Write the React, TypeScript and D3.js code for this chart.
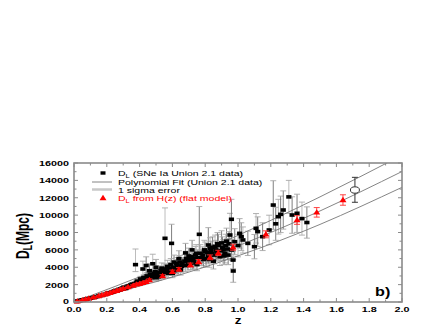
import React from 'react';
import * as d3 from 'd3';

// SNe Ia (Union 2.1) luminosity distances: [z, DL, errUp, errDown?]
const sneData: number[][] = [
  [0.015, 65, 10], [0.02, 88, 10], [0.025, 105, 12], [0.03, 130, 12], [0.035, 150, 15],
  [0.04, 175, 15], [0.045, 195, 18], [0.05, 220, 20], [0.055, 235, 20], [0.06, 260, 25],
  [0.065, 285, 25], [0.07, 300, 30], [0.08, 350, 30], [0.09, 400, 35], [0.1, 440, 40],
  [0.11, 480, 40], [0.12, 530, 45], [0.13, 590, 50], [0.14, 620, 55], [0.15, 680, 60],
  [0.16, 740, 60], [0.17, 760, 70], [0.18, 830, 70], [0.19, 880, 80], [0.2, 950, 90],
  [0.21, 980, 90], [0.22, 1080, 100], [0.23, 1100, 100], [0.24, 1180, 110], [0.25, 1230, 120],
  [0.26, 1290, 130], [0.27, 1360, 130], [0.28, 1400, 140], [0.29, 1480, 150], [0.3, 1520, 150],
  [0.31, 1620, 160], [0.32, 1650, 170], [0.33, 1760, 180], [0.34, 1800, 190], [0.35, 1900, 200],
  [0.36, 1950, 210], [0.37, 2100, 250], [0.375, 4300, 1800, 800], [0.38, 2200, 250], [0.39, 2300, 300],
  [0.4, 2250, 280], [0.41, 2500, 300], [0.42, 2400, 300], [0.43, 2700, 350], [0.44, 2600, 350],
  [0.45, 2900, 400], [0.46, 2750, 350], [0.47, 3100, 450], [0.48, 2900, 400], [0.49, 3300, 500],
  [0.5, 2800, 400], [0.51, 3400, 500], [0.52, 3000, 450], [0.53, 3600, 550], [0.54, 3200, 500],
  [0.555, 7330, 3500, 3800], [0.55, 3800, 600], [0.56, 3400, 500], [0.57, 4100, 700], [0.58, 3600, 550],
  [0.595, 6750, 2200], [0.59, 4300, 700], [0.6, 3300, 500], [0.61, 4600, 800], [0.62, 3900, 600],
  [0.63, 4200, 700], [0.64, 5000, 900], [0.65, 3700, 600], [0.66, 4400, 700], [0.68, 5650, 1100],
  [0.68, 4200, 700], [0.69, 4800, 800], [0.7, 5300, 900], [0.71, 4500, 800], [0.72, 6000, 1100],
  [0.73, 4700, 800], [0.74, 5400, 1000], [0.75, 4300, 700], [0.764, 7790, 3200, 2900], [0.77, 5600, 1000],
  [0.78, 5100, 900], [0.79, 4900, 900], [0.8, 5800, 1100], [0.819, 6560, 2000], [0.82, 5300, 900],
  [0.83, 6200, 1200], [0.84, 5600, 1000], [0.85, 4700, 900], [0.86, 6400, 1300], [0.87, 5800, 1100],
  [0.88, 6500, 1300], [0.89, 5200, 1000], [0.9, 6800, 1400], [0.91, 6000, 1200], [0.92, 5600, 1100],
  [0.93, 7000, 1500], [0.94, 5400, 1100], [0.951, 7710, 2500], [0.96, 9520, 2300], [0.96, 5990, 1200],
  [0.97, 4830, 1000], [0.971, 3570, 1300], [0.98, 6940, 1500], [1.0, 6500, 1300], [1.01, 7900, 1700],
  [1.02, 7520, 1600], [1.03, 7140, 1500], [1.06, 6750, 1400], [1.1, 6370, 1400], [1.11, 8480, 1700],
  [1.12, 8100, 1700], [1.15, 7520, 1600], [1.19, 8290, 1700], [1.215, 11160, 2800], [1.23, 9000, 1900],
  [1.246, 9820, 2000], [1.26, 10090, 2100], [1.276, 10590, 2200], [1.31, 12100, 1900], [1.33, 10010, 2100],
  [1.36, 10210, 2200], [1.39, 9600, 1900], [1.42, 9150, 1800],
  [0.205, 1000, 100], [0.215, 1040, 100], [0.235, 1150, 110], [0.245, 1250, 120], [0.255, 1330, 130],
  [0.265, 1300, 130], [0.275, 1450, 140], [0.285, 1500, 150], [0.295, 1600, 160], [0.305, 1700, 170],
  [0.315, 1560, 160], [0.325, 1800, 180], [0.335, 1850, 190], [0.345, 1950, 200], [0.355, 2050, 210],
  [0.365, 2000, 220], [0.385, 2400, 260], [0.395, 2150, 250], [0.405, 2650, 300], [0.415, 2300, 280],
  [0.425, 2800, 330], [0.435, 2500, 300], [0.445, 3000, 380], [0.455, 2650, 330], [0.465, 3200, 420],
  [0.475, 2800, 360], [0.485, 3050, 400], [0.495, 3500, 500], [0.505, 3100, 450], [0.515, 2900, 420],
  [0.525, 3300, 480], [0.535, 3900, 600], [0.545, 3500, 520], [0.565, 3700, 560], [0.575, 3300, 500],
  [0.585, 3900, 600], [0.605, 4000, 650], [0.615, 3600, 560], [0.625, 4400, 720], [0.635, 3800, 600],
  [0.645, 4600, 750], [0.655, 4100, 680], [0.675, 4700, 780], [0.685, 5000, 850], [0.695, 4400, 720],
  [0.705, 4900, 820], [0.715, 5200, 900], [0.725, 4500, 750], [0.735, 5000, 850], [0.745, 5600, 1000],
  [0.755, 5100, 900], [0.785, 5400, 950], [0.795, 6000, 1100], [0.805, 5000, 900], [0.815, 5700, 1000],
  [0.825, 4900, 900], [0.835, 5900, 1100], [0.845, 6300, 1200], [0.855, 5400, 1000], [0.865, 6000, 1100],
  [0.875, 6700, 1300], [0.895, 5900, 1100], [0.905, 6300, 1200], [0.915, 5300, 1000], [0.925, 6500, 1300],
  [0.935, 6100, 1200], [0.945, 6700, 1400],
  [0.42, 3800, 900], [0.44, 4200, 1000], [0.46, 3600, 800], [0.48, 4400, 1100], [0.5, 4000, 900],
];

// DL from H(z), flat model: [z, DL, err]
const hzData: number[][] = [
  [0.02, 90, 20], [0.05, 220, 30], [0.07, 320, 40], [0.09, 400, 40], [0.12, 540, 50],
  [0.15, 690, 50], [0.17, 800, 60], [0.19, 900, 60], [0.2, 960, 70], [0.22, 1070, 70],
  [0.24, 1190, 80], [0.26, 1300, 80], [0.28, 1430, 90], [0.3, 1550, 90], [0.33, 1720, 100],
  [0.36, 1880, 100], [0.38, 2030, 110], [0.4, 2100, 110], [0.42, 2200, 120], [0.44, 2330, 120],
  [0.46, 2530, 130], [0.54, 2990, 150], [0.6, 3490, 180], [0.64, 3760, 200], [0.71, 4260, 220],
  [0.76, 4640, 250], [0.83, 5140, 280], [0.88, 5650, 300], [0.97, 6300, 350], [1.17, 7790, 400],
  [1.36, 9440, 500], [1.48, 10320, 550], [1.64, 11740, 600],
];

// open circle point: [z, DL, low, high]
const circlePoint = [1.713, 12890, 11480, 14350];

// polynomial fit and 1 sigma curves
const fitUpper: number[][] = [[0, 0], [0.5, 3640], [1, 7670], [1.5, 12100], [2, 16900]];
const fitMiddle: number[][] = [[0, 0], [0.5, 2970], [1, 6460], [1.5, 10480], [2, 15020]];
const fitLower: number[][] = [[0, 0], [0.5, 2330], [1, 5310], [1.5, 8930], [2, 13200]];

const xLabels = [0, 0.2, 0.4, 0.6, 0.8, 1.0, 1.2, 1.4, 1.6, 1.8, 2.0];
const yLabels = [0, 2000, 4000, 6000, 8000, 10000, 12000, 14000, 16000];

const W = 443, H = 332;
const left = 74, right = 402, top = 163, bottom = 302;
const SX = 1.35;
const font = 'Liberation Sans, Arial, sans-serif';
const axisColor = '#8a8a8a';

function App() {
  const x = d3.scaleLinear().domain([0, 2]).range([left, right]);
  const y = d3.scaleLinear().domain([0, 16000]).range([bottom, top]);
  const line = d3.line<number[]>().x(d => x(d[0])).y(d => y(d[1])).curve(d3.curveNatural);

  const minorX = x.ticks(20);
  const minorY = y.ticks(16);

  const tri = (cx: number, cy: number) =>
    `M${cx},${cy - 3.2} L${cx + 3.5},${cy + 2.2} L${cx - 3.5},${cy + 2.2} Z`;

  return (
    <svg width={W} height={H} style={{ position: 'absolute', left: 0, top: 0, background: '#fff' }}>
      <defs>
        <clipPath id="plot">
          <rect x={left} y={top} width={right - left} height={bottom - top} />
        </clipPath>
      </defs>

      {/* SNe error bars */}
      <g strokeWidth={0.9}>
        {sneData.map((d, i) => {
          const hi = y(d[1] + d[2]);
          const lo = y(Math.max(0, d[1] - (d[3] ?? d[2])));
          const cx = x(d[0]);
          return (
            <g key={i} stroke={i % 3 === 0 ? '#b4b4b4' : '#707070'}>
              <line x1={cx} x2={cx} y1={hi} y2={lo} />
              <line x1={cx - 3} x2={cx + 3} y1={hi} y2={hi} stroke="#a8a8a8" />
              <line x1={cx - 3} x2={cx + 3} y1={lo} y2={lo} stroke="#a8a8a8" />
            </g>
          );
        })}
      </g>

      {/* fit lines */}
      <g clipPath="url(#plot)" fill="none" stroke="#777" strokeWidth={0.9}>
        <path d={line(fitUpper) ?? ''} />
        <path d={line(fitMiddle) ?? ''} />
        <path d={line(fitLower) ?? ''} />
      </g>

      {/* SNe points */}
      <g fill="#000">
        {sneData.map((d, i) => (
          <rect key={i} x={x(d[0]) - 2.6} y={y(d[1]) - 1.8} width={5.2} height={3.6} />
        ))}
      </g>

      {/* H(z) points */}
      <g>
        {hzData.map((d, i) => {
          const cx = x(d[0]);
          const hi = y(d[1] + d[2]);
          const lo = y(d[1] - d[2]);
          return (
            <g key={i}>
              <g stroke="#ff3030" strokeWidth={0.9}>
                <line x1={cx} x2={cx} y1={hi} y2={lo} />
                <line x1={cx - 3} x2={cx + 3} y1={hi} y2={hi} />
                <line x1={cx - 3} x2={cx + 3} y1={lo} y2={lo} />
              </g>
              <path d={tri(cx, y(d[1]))} fill="#ff0000" />
            </g>
          );
        })}
      </g>

      {/* open circle point */}
      <g stroke="#333" strokeWidth={1}>
        <line x1={x(circlePoint[0])} x2={x(circlePoint[0])} y1={y(circlePoint[3])} y2={y(circlePoint[2])} />
        <line x1={x(circlePoint[0]) - 3} x2={x(circlePoint[0]) + 3} y1={y(circlePoint[3])} y2={y(circlePoint[3])} />
        <line x1={x(circlePoint[0]) - 3} x2={x(circlePoint[0]) + 3} y1={y(circlePoint[2])} y2={y(circlePoint[2])} />
        <ellipse cx={x(circlePoint[0])} cy={y(circlePoint[1])} rx={4.5} ry={3.2} fill="#fff" />
      </g>

      {/* frame and ticks */}
      <rect x={left} y={top} width={right - left} height={bottom - top} fill="none" stroke={axisColor} strokeWidth={1.6} />
      <g stroke={axisColor} strokeWidth={1}>
        {minorX.map((t, i) => {
          const len = i % 2 === 0 ? 4 : 2.5;
          return (
            <g key={i}>
              <line x1={x(t)} x2={x(t)} y1={bottom} y2={bottom - len} />
              <line x1={x(t)} x2={x(t)} y1={top} y2={top + len} />
            </g>
          );
        })}
        {minorY.map((t, i) => {
          const len = i % 2 === 0 ? 4 : 2.5;
          return (
            <g key={i}>
              <line x1={left} x2={left + len} y1={y(t)} y2={y(t)} />
              <line x1={right} x2={right - len} y1={y(t)} y2={y(t)} />
            </g>
          );
        })}
      </g>

      {/* tick labels */}
      <g fontFamily={font} fontWeight="bold" fontSize={8} fill="#000">
        {xLabels.map(t => (
          <text key={t} transform={`translate(${x(t)},${bottom + 10}) scale(${SX},1)`} textAnchor="middle">
            {t.toFixed(1)}
          </text>
        ))}
        {yLabels.map(t => (
          <text key={t} transform={`translate(${left - 5},${y(t) + (t === 0 ? 1.5 : 3)}) scale(${SX},1)`} textAnchor="end">
            {t}
          </text>
        ))}
      </g>

      {/* axis titles */}
      <text transform={`translate(${x(1)},${bottom + 22}) scale(${SX},1)`} textAnchor="middle"
        fontFamily={font} fontWeight="bold" fontSize={10}>z</text>
      <text transform={`translate(29,236) scale(1.5,1) rotate(-90)`} textAnchor="middle"
        fontFamily={font} fontWeight="bold" fontSize={12}>
        D<tspan fontSize={8.5} dy={2}>L</tspan><tspan dy={-2}>(Mpc)</tspan>
      </text>
      <text transform={`translate(375,296) scale(${SX},1)`} fontFamily={font} fontWeight="bold" fontSize={12}>b)</text>

      {/* legend */}
      <g fontFamily={font} fontSize={7.8}>
        <rect x={100.5} y={171.3} width={5} height={3.4} fill="#000" />
        <text transform={`translate(118,176) scale(${SX},1)`}>
          D<tspan fontSize={5.5} dy={1.5}>L</tspan><tspan dy={-1.5}>{'  (SNe Ia Union 2.1 data)'}</tspan>
        </text>
        <line x1={92} x2={112} y1={182} y2={182} stroke="#777" strokeWidth={0.9} />
        <text transform={`translate(118,185) scale(${SX},1)`}>Polynomial Fit (Union 2.1 data)</text>
        <line x1={92} x2={112} y1={189.5} y2={189.5} stroke="#c8c8c8" strokeWidth={2.5} />
        <text transform={`translate(118,192.5) scale(${SX},1)`}>1 sigma error</text>
        <path d={tri(103, 198)} fill="#ff0000" />
        <text transform={`translate(118,201) scale(${SX},1)`} fill="#ff0000">
          D<tspan fontSize={5.5} dy={1.5}>L</tspan><tspan dy={-1.5}>{' from H(z) (flat model)'}</tspan>
        </text>
      </g>
    </svg>
  );
}

export default App;
